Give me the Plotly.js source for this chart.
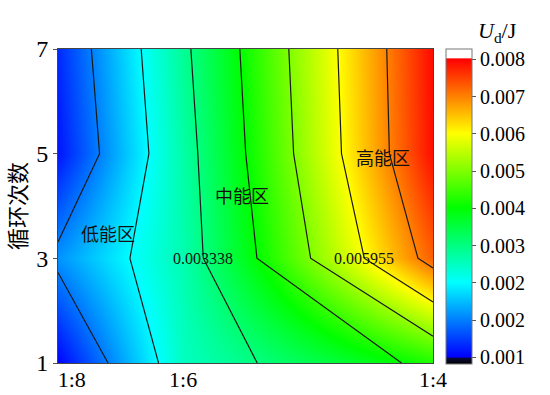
<!DOCTYPE html>
<html>
<head>
<meta charset="utf-8">
<script src="https://cdn.plot.ly/plotly-3.0.1.min.js"></script>
<style>html,body{margin:0;padding:0;background:#fff;}#chart{width:550px;height:395px;}</style>
</head>
<body>
<div id="chart"></div>
<script>
// ---- data ----
const ratios = [0.125, 0.1667, 0.25];          // 1:8, 1:6, 1:4
const ratioLabels = ['1:8', '1:6', '1:4'];
const cycles = [1, 3, 5, 7];
const cycleLabels = ['1', '3', '5', '7'];
// Ud (J), rows = cycles, cols = ratios
const udCycle1 = [0.00073, 0.00289, 0.00440];
const udCycle3 = [0.00173, 0.00301, 0.00707];
const udCycle5 = [0.00086, 0.00307, 0.00762];
const udCycle7 = [0.00101, 0.00320, 0.00765];
// contour / colorbar levels
const levels = [0.000722, 0.001594, 0.002466, 0.003338, 0.004210, 0.005083, 0.005955, 0.006827, 0.007700];
const levelLabels = ['0.001', '0.002', '0.002', '0.003', '0.004', '0.005', '0.006', '0.007', '0.008'];
const lineLabels = ['0.003338', '0.005955'];
const regionNames = ['低能区', '中能区', '高能区'];

// ---- styling ----
const serif = 'Liberation Serif, Times New Roman, serif';
const cjk = 'Noto Sans CJK SC, sans-serif';
const zmin = 0.000558, zmax = 0.00793;
const f = v => (v - zmin) / (zmax - zmin);
const lo = levels[0], hi = levels[levels.length - 1];
const span = hi - lo;
const colorscale = [
  [0, 'rgb(0,0,0)'],
  [f(lo) - 0.004, 'rgb(10,10,60)'],
  [f(lo), 'rgb(0,0,255)'],
  [f(lo + span * 0.25), 'rgb(0,255,255)'],
  [f(lo + span * 0.5), 'rgb(0,255,0)'],
  [f(lo + span * 0.75), 'rgb(255,255,0)'],
  [f(hi), 'rgb(255,0,0)'],
  [f(hi) + 0.003, 'rgb(255,255,255)'],
  [1, 'rgb(255,255,255)']
];
const z = [udCycle1, udCycle3, udCycle5, udCycle7];
const step = levels[1] - levels[0];

const fill = {
  type: 'contour', x: ratios, y: cycles, z: z,
  zmin: zmin, zmax: zmax, colorscale: colorscale,
  contours: {coloring: 'heatmap', showlines: false, start: levels[1], end: levels[7], size: step},
  line: {width: 0},
  hoverinfo: 'skip',
  colorbar: {
    x: 1.0347, xanchor: 'left', xpad: 0, ypad: 0,
    y: 0.497, yanchor: 'middle', len: 315, lenmode: 'pixels',
    thickness: 26, outlinewidth: 1, outlinecolor: '#777',
    tickvals: levels, ticktext: levelLabels,
    ticks: 'outside', ticklen: 4, tickcolor: '#555',
    tickfont: {family: serif, size: 20, color: '#000'}
  }
};
const lines = {
  type: 'contour', x: ratios, y: cycles, z: z,
  showscale: false, hoverinfo: 'skip',
  contours: {coloring: 'none', showlines: true, start: levels[1], end: levels[7], size: step},
  line: {color: '#1a1a1a', width: 1.2, smoothing: 0}
};

const annFont = {family: serif, size: 16, color: '#111'};
const regFont = {family: cjk, size: 18, color: '#111'};
const layout = {
  width: 550, height: 395,
  margin: {l: 58, r: 117, t: 49, b: 31.5},
  paper_bgcolor: '#fff', plot_bgcolor: '#fff',
  showlegend: false,
  font: {family: serif, color: '#000'},
  xaxis: {
    range: [ratios[0], ratios[2]], tickvals: ratios,
    ticktext: ratioLabels.map((t, i) => i === 0 ? '\u00a0\u00a0\u00a0\u00a0\u00a0' + t : t),
    ticks: '', showgrid: false, zeroline: false, ticklabelstandoff: -3,
    showline: true, mirror: true, linecolor: '#444', linewidth: 1,
    tickfont: {family: serif, size: 22, color: '#000'}
  },
  yaxis: {
    range: [cycles[0], cycles[3]], tickvals: cycles, ticktext: cycleLabels,
    ticks: 'outside', ticklen: 4, tickcolor: '#555',
    showgrid: false, zeroline: false,
    showline: true, mirror: true, linecolor: '#444', linewidth: 1,
    tickfont: {family: serif, size: 24, color: '#000'},
    title: {text: '循环次数', font: {family: cjk, size: 22, color: '#000'}, standoff: 6}
  },
  annotations: [
    {x: 0.1733, y: 3, xref: 'x', yref: 'y', text: lineLabels[0], showarrow: false, font: annFont},
    {x: 0.2270, y: 3, xref: 'x', yref: 'y', text: lineLabels[1], showarrow: false, font: annFont},
    {x: 0.1417, y: 3.49, xref: 'x', yref: 'y', text: regionNames[0], showarrow: false, font: regFont},
    {x: 0.1863, y: 4.21, xref: 'x', yref: 'y', text: regionNames[1], showarrow: false, font: regFont},
    {x: 0.2333, y: 4.94, xref: 'x', yref: 'y', text: regionNames[2], showarrow: false, font: regFont},
    {x: 1.171, y: 1.054, xref: 'paper', yref: 'paper', xanchor: 'center', yanchor: 'middle',
     text: '<i>U</i><sub>d</sub>/J', showarrow: false, font: {family: serif, size: 22, color: '#000'}}
  ]
};
Plotly.newPlot('chart', [fill, lines], layout, {displayModeBar: false, staticPlot: true});
</script>
</body>
</html>
